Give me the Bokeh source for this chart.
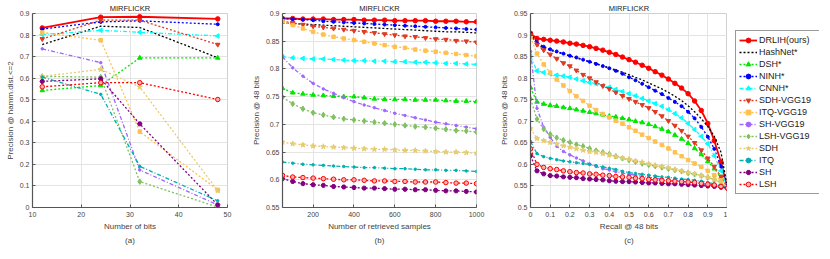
import math
from bokeh.plotting import figure
from bokeh.layouts import row
from bokeh.models import Legend, LegendItem, FixedTicker, Range1d, CustomJSTickFormatter, LinearAxis
from bokeh.embed import file_html
from bokeh.resources import INLINE

# ---------------- data ----------------
methods = ["DRLIH(ours)", "HashNet*", "DSH*", "NINH*", "CNNH*", "SDH-VGG19", "ITQ-VGG19",
           "SH-VGG19", "LSH-VGG19", "SDH", "ITQ", "SH", "LSH"]

# (a) precision @ hamming dist <= 2 vs number of bits
bits = [12, 24, 32, 48]
hamm_drlih = [0.833, 0.883, 0.885, 0.875]
hamm_hashnet = [0.756, 0.841, 0.835, 0.695]
hamm_dsh = [0.543, 0.566, 0.694, 0.694]
hamm_ninh = [0.828, 0.861, 0.866, 0.850]
hamm_cnnh = [0.802, 0.822, 0.813, 0.796]
hamm_sdh_vgg = [0.782, 0.869, 0.869, 0.756]
hamm_itq_vgg = [0.812, 0.776, 0.352, 0.082]
hamm_sh_vgg = [0.736, 0.672, 0.174, 0.012]
hamm_lsh_vgg = [0.608, 0.605, 0.120, 0.002]
hamm_sdh = [0.608, 0.641, 0.559, 0.078]
hamm_itq = [0.605, 0.525, 0.191, 0.031]
hamm_sh = [0.585, 0.597, 0.388, 0.012]
hamm_lsh = [0.560, 0.579, 0.579, 0.501]

# (b) precision @ 48 bits vs number of retrieved samples
samples = [50, 100, 150, 200, 250, 300, 350, 400, 450, 500, 550, 600, 650, 700, 750, 800, 850, 900, 950, 1000]
topk_drlih = [0.891, 0.891, 0.890, 0.890, 0.890, 0.889, 0.889, 0.889, 0.888, 0.888, 0.888, 0.887, 0.887, 0.887, 0.887, 0.886, 0.886, 0.886, 0.885, 0.885]
topk_hashnet = [0.883, 0.882, 0.881, 0.880, 0.879, 0.878, 0.877, 0.876, 0.875, 0.874, 0.873, 0.872, 0.871, 0.870, 0.869, 0.868, 0.867, 0.867, 0.866, 0.865]
topk_dsh = [0.765, 0.757, 0.755, 0.753, 0.752, 0.751, 0.750, 0.750, 0.748, 0.746, 0.745, 0.745, 0.745, 0.744, 0.744, 0.744, 0.743, 0.742, 0.742, 0.741]
topk_ninh = [0.891, 0.890, 0.889, 0.888, 0.886, 0.885, 0.884, 0.883, 0.882, 0.881, 0.880, 0.879, 0.878, 0.877, 0.876, 0.875, 0.874, 0.873, 0.872, 0.871]
topk_cnnh = [0.822, 0.820, 0.819, 0.818, 0.818, 0.817, 0.816, 0.815, 0.815, 0.814, 0.814, 0.813, 0.813, 0.812, 0.812, 0.811, 0.810, 0.810, 0.809, 0.808]
topk_sdh_vgg = [0.886, 0.883, 0.880, 0.877, 0.875, 0.873, 0.871, 0.869, 0.867, 0.865, 0.863, 0.861, 0.859, 0.858, 0.856, 0.854, 0.853, 0.851, 0.850, 0.848]
topk_itq_vgg = [0.886, 0.879, 0.873, 0.867, 0.862, 0.858, 0.855, 0.852, 0.849, 0.846, 0.843, 0.840, 0.838, 0.835, 0.833, 0.831, 0.829, 0.827, 0.825, 0.823]
topk_sh_vgg = [0.822, 0.802, 0.787, 0.774, 0.764, 0.756, 0.748, 0.741, 0.735, 0.730, 0.725, 0.720, 0.716, 0.712, 0.708, 0.704, 0.701, 0.698, 0.695, 0.692]
topk_lsh_vgg = [0.749, 0.737, 0.728, 0.721, 0.717, 0.713, 0.710, 0.708, 0.706, 0.704, 0.702, 0.700, 0.698, 0.696, 0.695, 0.693, 0.691, 0.689, 0.688, 0.686]
topk_sdh = [0.668, 0.665, 0.663, 0.661, 0.660, 0.659, 0.658, 0.657, 0.656, 0.655, 0.655, 0.654, 0.653, 0.653, 0.652, 0.651, 0.650, 0.650, 0.649, 0.648]
topk_itq = [0.632, 0.630, 0.628, 0.627, 0.626, 0.625, 0.624, 0.623, 0.622, 0.622, 0.621, 0.620, 0.620, 0.619, 0.618, 0.618, 0.617, 0.617, 0.616, 0.615]
topk_sh = [0.602, 0.597, 0.593, 0.591, 0.590, 0.588, 0.587, 0.586, 0.585, 0.585, 0.584, 0.583, 0.583, 0.582, 0.582, 0.581, 0.580, 0.580, 0.579, 0.578]
topk_lsh = [0.608, 0.605, 0.604, 0.603, 0.602, 0.601, 0.600, 0.600, 0.599, 0.598, 0.598, 0.597, 0.597, 0.596, 0.596, 0.596, 0.595, 0.594, 0.594, 0.593]

# (c) precision-recall @ 48 bits
recall = [0, 0.033, 0.067, 0.1, 0.133, 0.167, 0.2, 0.233, 0.267, 0.3, 0.333, 0.367, 0.4, 0.433, 0.467, 0.5,
          0.533, 0.567, 0.6, 0.633, 0.667, 0.7, 0.733, 0.767, 0.8, 0.833, 0.867, 0.9, 0.933, 0.967, 1.0]
pr_drlih = [0.904, 0.892, 0.890, 0.888, 0.886, 0.884, 0.881, 0.879, 0.876, 0.873, 0.869, 0.865, 0.860, 0.855, 0.849, 0.843,
            0.837, 0.830, 0.823, 0.815, 0.807, 0.798, 0.788, 0.777, 0.764, 0.747, 0.725, 0.695, 0.655, 0.605, 0.545]
pr_hashnet = [0.902, 0.879, 0.870, 0.865, 0.860, 0.856, 0.851, 0.847, 0.842, 0.838, 0.834, 0.829, 0.824, 0.819, 0.814, 0.808,
              0.802, 0.796, 0.789, 0.782, 0.775, 0.767, 0.758, 0.748, 0.736, 0.722, 0.706, 0.688, 0.665, 0.628, 0.545]
pr_dsh = [0.778, 0.745, 0.740, 0.737, 0.735, 0.732, 0.730, 0.727, 0.724, 0.721, 0.718, 0.715, 0.712, 0.710, 0.707, 0.704,
          0.700, 0.697, 0.693, 0.688, 0.682, 0.676, 0.668, 0.659, 0.649, 0.637, 0.623, 0.607, 0.590, 0.570, 0.545]
pr_ninh = [0.904, 0.883, 0.873, 0.867, 0.862, 0.857, 0.852, 0.848, 0.843, 0.838, 0.833, 0.828, 0.823, 0.817, 0.810, 0.802,
           0.795, 0.787, 0.779, 0.771, 0.763, 0.754, 0.745, 0.735, 0.722, 0.707, 0.687, 0.664, 0.636, 0.595, 0.545]
pr_cnnh = [0.850, 0.817, 0.813, 0.810, 0.807, 0.805, 0.802, 0.798, 0.794, 0.790, 0.787, 0.783, 0.779, 0.774, 0.769, 0.764,
           0.759, 0.753, 0.747, 0.741, 0.735, 0.727, 0.718, 0.708, 0.695, 0.681, 0.665, 0.648, 0.620, 0.585, 0.545]
pr_sdh_vgg = [0.900, 0.878, 0.865, 0.855, 0.845, 0.835, 0.828, 0.818, 0.808, 0.800, 0.791, 0.782, 0.775, 0.767, 0.759, 0.752,
              0.745, 0.738, 0.731, 0.722, 0.712, 0.701, 0.690, 0.678, 0.665, 0.650, 0.633, 0.614, 0.595, 0.572, 0.545]
pr_itq_vgg = [0.895, 0.857, 0.832, 0.813, 0.797, 0.783, 0.770, 0.758, 0.747, 0.736, 0.726, 0.717, 0.709, 0.701, 0.694, 0.686,
              0.678, 0.669, 0.661, 0.653, 0.645, 0.637, 0.628, 0.619, 0.610, 0.602, 0.594, 0.585, 0.575, 0.563, 0.545]
pr_sh_vgg = [0.862, 0.730, 0.686, 0.663, 0.642, 0.630, 0.622, 0.615, 0.608, 0.601, 0.595, 0.590, 0.587, 0.583, 0.580, 0.577,
             0.575, 0.572, 0.570, 0.568, 0.566, 0.564, 0.562, 0.561, 0.559, 0.557, 0.555, 0.553, 0.551, 0.548, 0.545]
pr_lsh_vgg = [0.752, 0.705, 0.682, 0.670, 0.662, 0.656, 0.651, 0.646, 0.642, 0.637, 0.632, 0.628, 0.624, 0.619, 0.614, 0.610,
              0.606, 0.602, 0.599, 0.596, 0.593, 0.590, 0.587, 0.584, 0.580, 0.577, 0.574, 0.570, 0.565, 0.558, 0.545]
pr_sdh = [0.683, 0.660, 0.655, 0.651, 0.647, 0.643, 0.640, 0.636, 0.633, 0.630, 0.628, 0.625, 0.622, 0.618, 0.615, 0.612,
          0.608, 0.605, 0.601, 0.598, 0.595, 0.592, 0.588, 0.585, 0.581, 0.578, 0.574, 0.570, 0.565, 0.558, 0.545]
pr_itq = [0.653, 0.625, 0.618, 0.614, 0.611, 0.608, 0.606, 0.604, 0.602, 0.600, 0.597, 0.594, 0.591, 0.588, 0.584, 0.581,
          0.579, 0.577, 0.575, 0.573, 0.571, 0.570, 0.568, 0.566, 0.565, 0.563, 0.561, 0.558, 0.555, 0.551, 0.545]
pr_sh = [0.620, 0.585, 0.578, 0.574, 0.573, 0.571, 0.570, 0.569, 0.567, 0.566, 0.565, 0.564, 0.562, 0.561, 0.560, 0.560,
         0.559, 0.558, 0.557, 0.557, 0.556, 0.555, 0.555, 0.554, 0.553, 0.552, 0.551, 0.550, 0.549, 0.547, 0.545]
pr_lsh = [0.636, 0.600, 0.593, 0.590, 0.588, 0.585, 0.583, 0.581, 0.580, 0.578, 0.577, 0.575, 0.574, 0.572, 0.571, 0.570,
          0.568, 0.567, 0.565, 0.564, 0.563, 0.562, 0.561, 0.560, 0.559, 0.558, 0.556, 0.554, 0.552, 0.549, 0.545]

hamm_series = [hamm_drlih, hamm_hashnet, hamm_dsh, hamm_ninh, hamm_cnnh, hamm_sdh_vgg, hamm_itq_vgg,
               hamm_sh_vgg, hamm_lsh_vgg, hamm_sdh, hamm_itq, hamm_sh, hamm_lsh]
topk_series = [topk_drlih, topk_hashnet, topk_dsh, topk_ninh, topk_cnnh, topk_sdh_vgg, topk_itq_vgg,
               topk_sh_vgg, topk_lsh_vgg, topk_sdh, topk_itq, topk_sh, topk_lsh]
pr_series = [pr_drlih, pr_hashnet, pr_dsh, pr_ninh, pr_cnnh, pr_sdh_vgg, pr_itq_vgg,
             pr_sh_vgg, pr_lsh_vgg, pr_sdh, pr_itq, pr_sh, pr_lsh]

# ---------------- styles ----------------
DOT = "2 2"
DASHDOT = "4 2 1 2"
# color, dash, marker, marker size, line width, angle, fill
styles = [
    ("#FF0000", "solid", "circle", 4.5, 1.8, 0, None),
    ("#000000", DOT, None, 0, 1.3, 0, None),
    ("#00E600", DOT, "triangle", 4.5, 1.3, 0, None),
    ("#0000FF", DOT, "circle", 3, 1.3, 0, None),
    ("#00FFFF", DASHDOT, "triangle", 4.5, 1.3, math.pi / 2, None),
    ("#E03A22", DOT, "inverted_triangle", 4.5, 1.3, 0, None),
    ("#FFC050", DOT, "square", 3.5, 1.3, 0, None),
    ("#A066FF", DASHDOT, "circle", 2.5, 1.3, 0, None),
    ("#80C060", DOT, "diamond", 5.5, 1.3, 0, None),
    ("#E6CC70", DOT, "star", 5.5, 1.3, 0, None),
    ("#00B0B0", DASHDOT, "circle", 2.5, 1.3, 0, None),
    ("#800080", DOT, "hex", 4.5, 1.3, 0, None),
    ("#FF0000", DOT, "circle", 4.5, 1.3, 0, "#FFB0B0"),
]

FONT = "Liberation Sans"
TXT = "#444444"
FH = 194
TOP = 11


def make_fig(xr, yr, xticks, yticks, xlabel, ylabel, caption, bl, br, fw):
    p = figure(frame_width=fw, frame_height=FH, x_range=Range1d(*xr), y_range=Range1d(*yr),
               output_backend="svg", toolbar_location=None,
               min_border_left=bl, min_border_right=br, min_border_top=TOP, min_border_bottom=0)
    p.title.text = "MIRFLICKR"
    p.title.align = "center"
    p.title.text_font = FONT
    p.title.text_font_size = "7.5px"
    p.title.text_font_style = "normal"
    p.title.text_color = "#222222"
    p.title.standoff = 2
    p.title.offset = 0
    fmt = "return (+tick.toFixed(3)).toString();"
    xa = p.xaxis[0]
    ya = p.yaxis[0]
    xa.ticker = FixedTicker(ticks=xticks)
    ya.ticker = FixedTicker(ticks=yticks)
    xa.formatter = CustomJSTickFormatter(code=fmt)
    ya.formatter = CustomJSTickFormatter(code=fmt)
    for ax in (xa, ya):
        ax.major_tick_in = 3
        ax.major_tick_out = 0
        ax.minor_tick_line_color = None
        ax.axis_line_color = "#555555"
        ax.axis_line_width = 1.2
        ax.major_tick_line_color = "#555555"
        ax.major_label_text_font = FONT
        ax.major_label_text_font_size = "7px"
        ax.major_label_text_color = TXT
        ax.axis_label_text_font = FONT
        ax.axis_label_text_font_size = "8px"
        ax.axis_label_text_font_style = "normal"
        ax.axis_label_text_color = TXT
        ax.major_label_standoff = 3
        ax.axis_label_standoff = 2
    xa.major_label_standoff = 4
    xa.axis_label = xlabel
    ya.axis_label = ylabel
    cap = LinearAxis(ticker=FixedTicker(ticks=[]), axis_label=caption, axis_line_color=None,
                     major_tick_line_color=None, minor_tick_line_color=None,
                     major_tick_in=0, major_tick_out=0, minor_tick_in=0, minor_tick_out=0,
                     major_label_standoff=0, axis_label_standoff=2,
                     axis_label_text_font=FONT, axis_label_text_font_size="8px",
                     axis_label_text_font_style="normal", axis_label_text_color=TXT)
    p.add_layout(cap, "below")
    p.grid.grid_line_color = "#E4E4E4"
    p.grid.grid_line_width = 1
    p.outline_line_color = "#D0D0D0"
    return p


def draw(p, xs, series_list):
    items = []
    for name, ys, st in zip(methods, series_list, styles):
        color, dash, marker, size, lw, ang, fill = st
        rends = [p.line(xs, ys, line_color=color, line_dash=dash, line_width=lw)]
        if marker is not None:
            rends.append(p.scatter(xs, ys, marker=marker, size=size, angle=ang,
                                   line_color=color, fill_color=fill if fill else color, line_width=1))
        items.append(LegendItem(label=name, renderers=rends))
    return items


fa = make_fig((10, 50), (0, 0.9), [10, 20, 30, 40, 50], [0, 0.1, 0.2, 0.3, 0.4, 0.5, 0.6, 0.7, 0.8, 0.9],
              "Number of bits", "Precision @ hamm.dist.<=2", "(a)", 32, 20, 195)
draw(fa, bits, hamm_series)

fb = make_fig((50, 1000), (0.55, 0.9), [200, 400, 600, 800, 1000],
              [0.55, 0.6, 0.65, 0.7, 0.75, 0.8, 0.85, 0.9],
              "Number of retrieved samples", "Precision @ 48 bits", "(b)", 35, 19, 194)
draw(fb, samples, topk_series)

fc = make_fig((0, 1), (0.5, 0.95), [0, 0.1, 0.2, 0.3, 0.4, 0.5, 0.6, 0.7, 0.8, 0.9, 1.0],
              [0.5, 0.55, 0.6, 0.65, 0.7, 0.75, 0.8, 0.85, 0.9, 0.95],
              "Recall @ 48 bits", "Precision @ 48 bits", "(c)", 35, 0, 197)
draw(fc, recall, pr_series)

# legend panel: the PR series are drawn again here, outside this panel's visible y range,
# only so that the legend has glyph renderers to show
fl = figure(frame_width=92, frame_height=230, x_range=Range1d(0, 1), y_range=Range1d(10, 11),
            output_backend="svg", toolbar_location=None,
            min_border_left=0, min_border_right=0, min_border_top=0, min_border_bottom=0)
fl.axis.visible = False
fl.grid.visible = False
fl.outline_line_color = None
legend_items = draw(fl, recall, pr_series)
legend = Legend(items=legend_items, location=(8, 36), margin=0, padding=3, spacing=0,
                glyph_width=18, glyph_height=12, label_height=12, label_width=58, label_standoff=2,
                label_text_font=FONT, label_text_font_size="9px", label_text_color="#222222",
                border_line_color="#333333", border_line_width=1.5, background_fill_alpha=1)
fl.add_layout(legend)

layout = row(fa, fb, fc, fl)
open("out.html", "w").write(file_html(layout, INLINE))
